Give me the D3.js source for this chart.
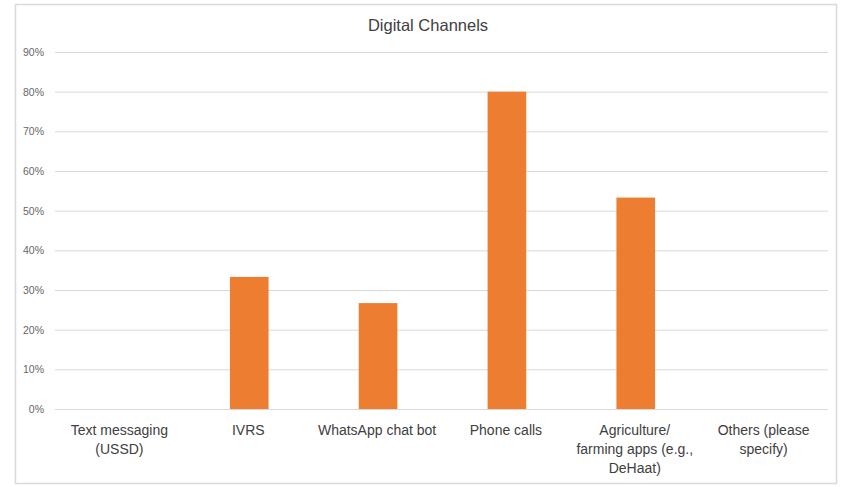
<!DOCTYPE html>
<html><head><meta charset="utf-8">
<script src="https://cdn.jsdelivr.net/npm/d3@7"></script>
<style>body{margin:0;background:#fff;} svg{display:block;}</style>
</head><body>
<svg id="chart" width="848" height="487"></svg>
<script>
const categories = [
  ["Text messaging", "(USSD)"],
  ["IVRS"],
  ["WhatsApp chat bot"],
  ["Phone calls"],
  ["Agriculture/", "farming apps (e.g.,", "DeHaat)"],
  ["Others (please", "specify)"]
];
const values = [0, 0.333, 0.267, 0.80, 0.533, 0];
const yTicks = [0, 0.1, 0.2, 0.3, 0.4, 0.5, 0.6, 0.7, 0.8, 0.9];
const title = "Digital Channels";

const svg = d3.select("#chart");
const font = "'Liberation Sans', Arial, sans-serif";
svg.append("rect").attr("x", 15.5).attr("y", 4.5).attr("width", 821).attr("height", 479)
  .attr("fill", "#fff").attr("stroke", "#d9d9d9").attr("stroke-width", 1.5);

const m = {left: 55, right: 828, top: 52, bottom: 409};
const x = d3.scaleBand().domain(categories.map((d, i) => i)).range([m.left, m.right]).paddingInner(0.7).paddingOuter(0.35);
const y = d3.scaleLinear().domain([0, 0.9]).range([m.bottom, m.top]);

const yAxis = d3.axisLeft(y).tickValues(yTicks).tickFormat(d3.format(".0%")).tickSize(-(m.right - m.left)).tickPadding(11);
const gy = svg.append("g").attr("transform", `translate(${m.left},0)`).call(yAxis);
gy.select(".domain").remove();
gy.selectAll(".tick line").attr("stroke", "#d9d9d9").attr("stroke-width", 1);
gy.selectAll(".tick text").attr("fill", "#666").style("font-family", font).style("font-size", "10.5px");

svg.append("g").selectAll("rect").data(values).join("rect")
  .attr("x", (d, i) => x(i) + 1).attr("width", x.bandwidth())
  .attr("y", d => y(d)).attr("height", d => y(0) - y(d))
  .attr("fill", "#ed7d31");

const cx = d3.scaleBand().domain(categories.map((d, i) => i)).range([m.left, m.right]);
const lab = svg.append("g");
categories.forEach((lines, i) => {
  const t = lab.append("text").attr("text-anchor", "middle")
    .attr("fill", "#404040").style("font-family", font).style("font-size", "14px");
  lines.forEach((l, j) => t.append("tspan").attr("x", cx(i) + cx.bandwidth() / 2).attr("y", 435 + j * 19).text(l));
});

svg.append("text").attr("x", 428).attr("y", 31).attr("text-anchor", "middle")
  .attr("fill", "#404040").style("font-family", font).style("font-size", "16.5px").text(title);
</script>
</body></html>
